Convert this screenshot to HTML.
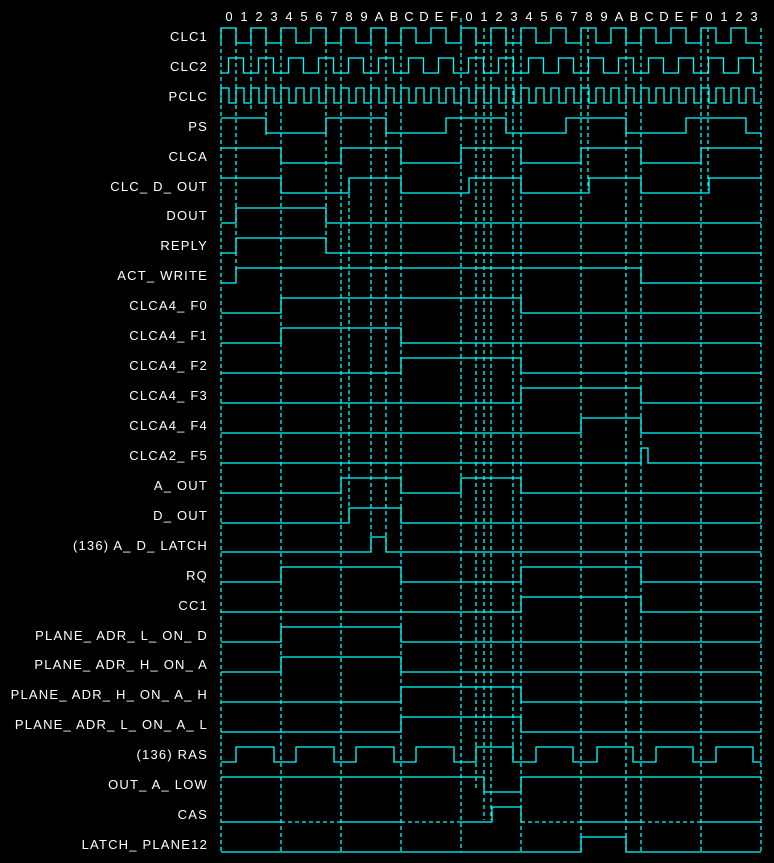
<!DOCTYPE html>
<html><head><meta charset="utf-8"><style>
html,body{margin:0;padding:0;background:#000;}
svg{display:block}
text{font-family:"Liberation Sans",sans-serif;font-size:13px;fill:#fff}
.lb text{letter-spacing:1.2px}
</style></head><body>
<svg width="774" height="863" viewBox="0 0 774 863" xmlns="http://www.w3.org/2000/svg">
<rect width="774" height="863" fill="#000"/>
<g stroke="#00ffff" stroke-width="1.3" stroke-dasharray="4 3" fill="none">
<path d="M221 28V852M281 28V852M341 28V852M401 28V852M461 18V852M521 28V852M581 28V852M641 28V852M701 28V852M761 28V852"/>
<path d="M236 28V275M251 28V110M266 28V135M326 28V245M349 180V520M371 28V550M386 28V550M476 28V790M484 28V820M491 28V820M506 28V130M513 28V760M588 28V190M626 28V850M708 28V190"/>
</g>
<g stroke="#00ffff" stroke-width="1.3" fill="none">
<path d="M221 43V28H236V43H251V28H266V43H281V28H296V43H311V28H326V43H341V28H356V43H371V28H386V43H401V28H416V43H431V28H446V43H461V28H476V43H491V28H506V43H521V28H536V43H551V28H566V43H581V28H596V43H611V28H626V43H641V28H656V43H671V28H686V43H701V28H716V43H731V28H746V43H761"/>
<path d="M221 73H228.5V58H243.5V73H258.5V58H273.5V73H288.5V58H303.5V73H318.5V58H333.5V73H348.5V58H363.5V73H378.5V58H393.5V73H408.5V58H423.5V73H438.5V58H453.5V73H468.5V58H483.5V73H498.5V58H513.5V73H528.5V58H543.5V73H558.5V58H573.5V73H588.5V58H603.5V73H618.5V58H633.5V73H648.5V58H663.5V73H678.5V58H693.5V73H708.5V58H723.5V73H738.5V58H753.5V73H761"/>
<path d="M221 103V88H229V103H236V88H244V103H251V88H259V103H266V88H274V103H281V88H289V103H296V88H304V103H311V88H319V103H326V88H334V103H341V88H349V103H356V88H364V103H371V88H379V103H386V88H394V103H401V88H409V103H416V88H424V103H431V88H439V103H446V88H454V103H461V88H469V103H476V88H484V103H491V88H499V103H506V88H514V103H521V88H529V103H536V88H544V103H551V88H559V103H566V88H574V103H581V88H589V103H596V88H604V103H611V88H619V103H626V88H634V103H641V88H649V103H656V88H664V103H671V88H679V103H686V88H694V103H701V88H709V103H716V88H724V103H731V88H739V103H746V88H754V103H761"/>
<path d="M221 118H266V133H326V118H386V133H446V118H506V133H566V118H626V133H686V118H746V133H761"/>
<path d="M221 148H281V163H341V148H401V163H461V148H521V163H581V148H641V163H701V148H761"/>
<path d="M221 178H281V193H349V178H401V193H469V178H521V193H589V178H641V193H709V178H761"/>
<path d="M221 223H236V208H326V223H761"/>
<path d="M221 253H236V238H326V253H761"/>
<path d="M221 283H236V268H641V283H761"/>
<path d="M221 313H281V298H521V313H761"/>
<path d="M221 343H281V328H401V343H761"/>
<path d="M221 373H401V358H521V373H761"/>
<path d="M221 403H521V388H641V403H761"/>
<path d="M221 433H581V418H641V433H761"/>
<path d="M221 463H641V448H648V463H761"/>
<path d="M221 493H341V478H401V493H461V478H521V493H761"/>
<path d="M221 523H349V508H401V523H761"/>
<path d="M221 552H371V537H386V552H761"/>
<path d="M221 582H281V567H401V582H521V567H641V582H761"/>
<path d="M221 612H521V597H641V612H761"/>
<path d="M221 642H281V627H401V642H761"/>
<path d="M221 672H281V657H401V672H761"/>
<path d="M221 702H401V687H521V702H761"/>
<path d="M221 732H401V717H521V732H761"/>
<path d="M221 762H236V747H274V762H296V747H334V762H356V747H394V762H416V747H454V762H476V747H513V762H536V747H573V762H597V747H633V762H656V747H693V762H716V747H753V762H761"/>
<path d="M221 777H484V792H521V777H761"/>
<path d="M221 822H281M341 822H401M461 822H492V807H521V822M581 822H641M701 822H761"/>
<path d="M221 852H581V837H626V852H761"/>
</g>
<g stroke="#00ffff" stroke-width="1.3" stroke-dasharray="4 3" fill="none">
<path d="M281 822H341M401 822H461M521 822H581M641 822H701"/>
</g>
<g text-anchor="middle">
<text x="229" y="21">0</text><text x="244" y="21">1</text><text x="259" y="21">2</text><text x="274" y="21">3</text><text x="289" y="21">4</text><text x="304" y="21">5</text><text x="319" y="21">6</text><text x="334" y="21">7</text><text x="349" y="21">8</text><text x="364" y="21">9</text><text x="379" y="21">A</text><text x="394" y="21">B</text><text x="409" y="21">C</text><text x="424" y="21">D</text><text x="439" y="21">E</text><text x="454" y="21">F</text>
<text x="469" y="21">0</text><text x="484" y="21">1</text><text x="499" y="21">2</text><text x="514" y="21">3</text><text x="529" y="21">4</text><text x="544" y="21">5</text><text x="559" y="21">6</text><text x="574" y="21">7</text><text x="589" y="21">8</text><text x="604" y="21">9</text><text x="619" y="21">A</text><text x="634" y="21">B</text><text x="649" y="21">C</text><text x="664" y="21">D</text><text x="679" y="21">E</text><text x="694" y="21">F</text>
<text x="709" y="21">0</text><text x="724" y="21">1</text><text x="739" y="21">2</text><text x="754" y="21">3</text>
</g>
<g text-anchor="end" class="lb">
<text x="208" y="41">CLC1</text>
<text x="208" y="71">CLC2</text>
<text x="208" y="101">PCLC</text>
<text x="208" y="131">PS</text>
<text x="208" y="161">CLCA</text>
<text x="208" y="191">CLC_ D_ OUT</text>
<text x="208" y="220">DOUT</text>
<text x="208" y="250">REPLY</text>
<text x="208" y="280">ACT_ WRITE</text>
<text x="208" y="310">CLCA4_ F0</text>
<text x="208" y="340">CLCA4_ F1</text>
<text x="208" y="370">CLCA4_ F2</text>
<text x="208" y="400">CLCA4_ F3</text>
<text x="208" y="430">CLCA4_ F4</text>
<text x="208" y="460">CLCA2_ F5</text>
<text x="208" y="490">A_ OUT</text>
<text x="208" y="520">D_ OUT</text>
<text x="208" y="550">(136) A_ D_ LATCH</text>
<text x="208" y="580">RQ</text>
<text x="208" y="610">CC1</text>
<text x="208" y="640">PLANE_ ADR_ L_ ON_ D</text>
<text x="208" y="669">PLANE_ ADR_ H_ ON_ A</text>
<text x="208" y="699">PLANE_ ADR_ H_ ON_ A_ H</text>
<text x="208" y="729">PLANE_ ADR_ L_ ON_ A_ L</text>
<text x="208" y="759">(136) RAS</text>
<text x="208" y="789">OUT_ A_ LOW</text>
<text x="208" y="819">CAS</text>
<text x="208" y="849">LATCH_ PLANE12</text>
</g>
</svg>
</body></html>
